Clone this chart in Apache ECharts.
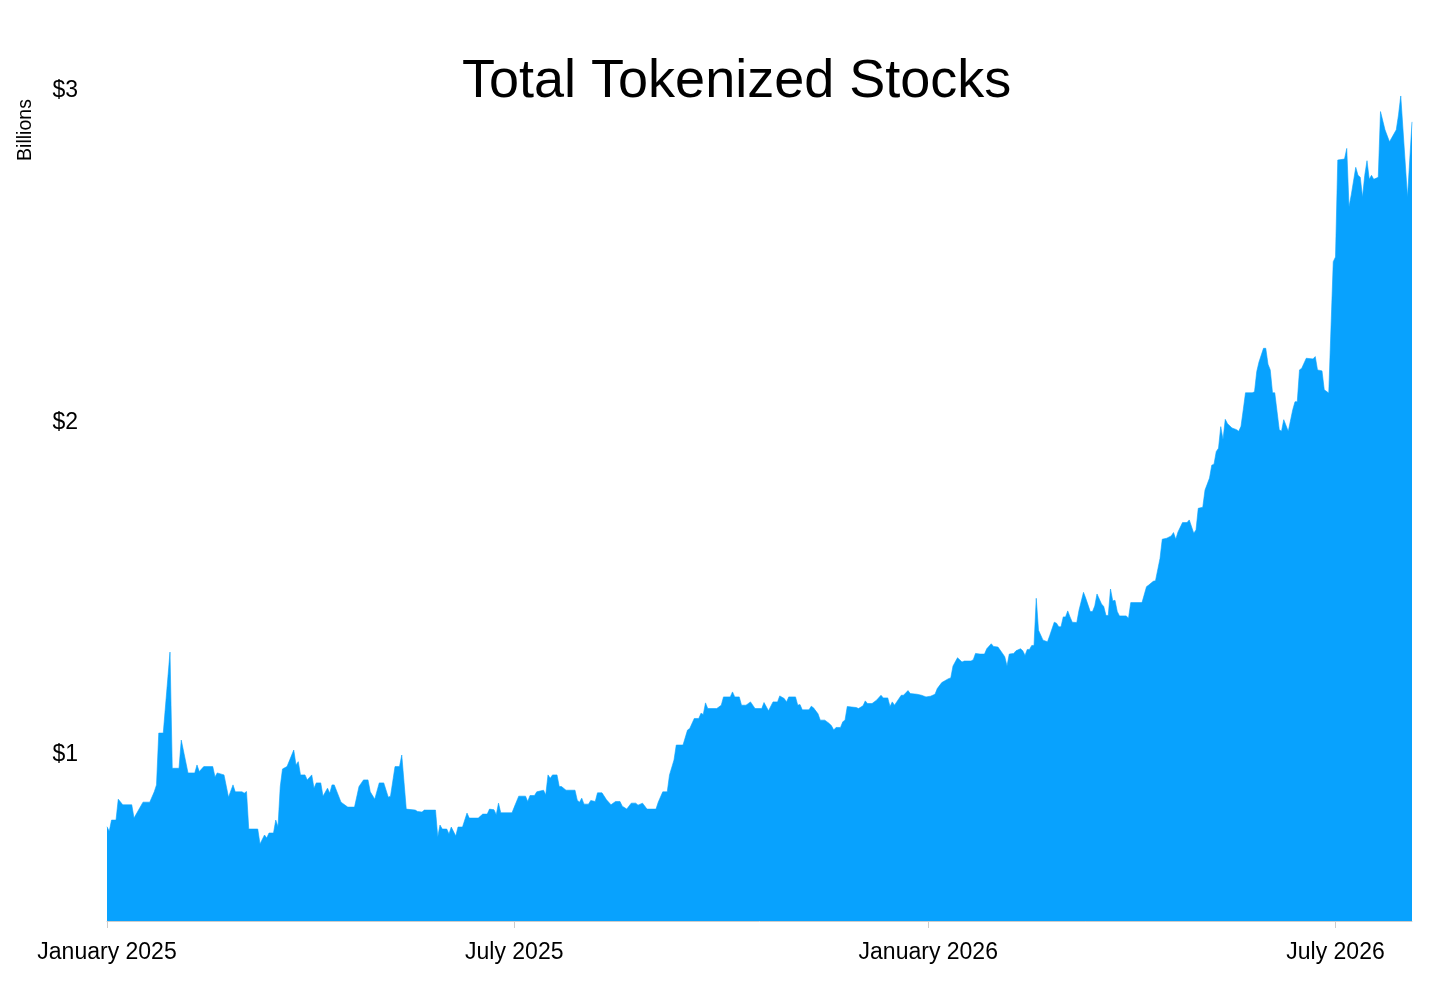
<!DOCTYPE html>
<html style="height: 100%">
<head>
    <meta charset="utf-8">
</head>
<body style="height: 100%; margin: 0; background: #fff">
<div id="container" style="height: 100%"></div>
<script type="text/javascript" src="https://cdn.jsdelivr.net/npm/echarts@6/dist/echarts.min.js"></script>
<script type="text/javascript">
    // daily snapshots (billions of USD)
    var dates = [
        '2025-01-01','2025-01-02','2025-01-03','2025-01-05','2025-01-06','2025-01-08','2025-01-12','2025-01-13','2025-01-17','2025-01-20','2025-01-22','2025-01-23','2025-01-24','2025-01-26','2025-01-29','2025-01-30',
        '2025-02-02','2025-02-03','2025-02-06','2025-02-09','2025-02-10','2025-02-11','2025-02-13','2025-02-17','2025-02-18','2025-02-19','2025-02-22','2025-02-24','2025-02-26','2025-02-27',
        '2025-03-02','2025-03-03','2025-03-04','2025-03-05','2025-03-09','2025-03-10','2025-03-12','2025-03-13','2025-03-14','2025-03-16','2025-03-17','2025-03-18','2025-03-19','2025-03-20','2025-03-22','2025-03-25','2025-03-26','2025-03-27','2025-03-28','2025-03-30','2025-03-31',
        '2025-04-02','2025-04-03','2025-04-04','2025-04-06','2025-04-07','2025-04-09','2025-04-10','2025-04-11','2025-04-12','2025-04-15','2025-04-18','2025-04-21','2025-04-23','2025-04-25','2025-04-27','2025-04-28','2025-04-30',
        '2025-05-02','2025-05-04','2025-05-06','2025-05-07','2025-05-09','2025-05-11','2025-05-12','2025-05-14','2025-05-18','2025-05-19','2025-05-21','2025-05-22','2025-05-27','2025-05-28','2025-05-29','2025-05-30',
        '2025-06-01','2025-06-02','2025-06-03','2025-06-05','2025-06-06','2025-06-08','2025-06-10','2025-06-11','2025-06-15','2025-06-17','2025-06-19','2025-06-20','2025-06-22','2025-06-23','2025-06-24','2025-06-25','2025-06-30',
        '2025-07-01','2025-07-03','2025-07-06','2025-07-07','2025-07-08','2025-07-10','2025-07-11','2025-07-14','2025-07-15','2025-07-16','2025-07-17','2025-07-18','2025-07-20','2025-07-21','2025-07-22','2025-07-24','2025-07-28','2025-07-29','2025-07-30','2025-07-31',
        '2025-08-01','2025-08-03','2025-08-04','2025-08-06','2025-08-07','2025-08-09','2025-08-11','2025-08-13','2025-08-15','2025-08-17','2025-08-18','2025-08-20','2025-08-22','2025-08-24','2025-08-25','2025-08-27','2025-08-29',
        '2025-09-02','2025-09-03','2025-09-05','2025-09-07','2025-09-08','2025-09-10','2025-09-11','2025-09-14','2025-09-16','2025-09-17','2025-09-19','2025-09-21','2025-09-22','2025-09-23','2025-09-24','2025-09-25','2025-09-29',
        '2025-10-01','2025-10-02','2025-10-05','2025-10-06','2025-10-07','2025-10-09','2025-10-10','2025-10-12','2025-10-14','2025-10-15','2025-10-16','2025-10-19','2025-10-20','2025-10-22','2025-10-24','2025-10-26','2025-10-27','2025-10-29','2025-10-30','2025-10-31',
        '2025-11-03','2025-11-04','2025-11-05','2025-11-06','2025-11-09','2025-11-10','2025-11-11','2025-11-13','2025-11-14','2025-11-16','2025-11-18','2025-11-19','2025-11-20','2025-11-21','2025-11-23','2025-11-24','2025-11-25','2025-11-26','2025-11-30',
        '2025-12-01','2025-12-03','2025-12-04','2025-12-05','2025-12-07','2025-12-09','2025-12-11','2025-12-12','2025-12-14','2025-12-15','2025-12-16','2025-12-17','2025-12-20','2025-12-21','2025-12-23','2025-12-24','2025-12-27','2025-12-29','2025-12-31',
        '2026-01-02','2026-01-04','2026-01-05','2026-01-07','2026-01-10','2026-01-11','2026-01-12','2026-01-14','2026-01-16','2026-01-17','2026-01-20','2026-01-21','2026-01-22','2026-01-24','2026-01-26','2026-01-27','2026-01-29','2026-01-30',
        '2026-02-01','2026-02-03','2026-02-04','2026-02-05','2026-02-06','2026-02-08','2026-02-09','2026-02-11','2026-02-12','2026-02-13','2026-02-14','2026-02-15','2026-02-16','2026-02-17','2026-02-18','2026-02-19','2026-02-21','2026-02-23','2026-02-24','2026-02-26','2026-02-27','2026-02-28',
        '2026-03-01','2026-03-02','2026-03-03','2026-03-04','2026-03-05','2026-03-06','2026-03-08','2026-03-09','2026-03-11','2026-03-12','2026-03-14','2026-03-15','2026-03-16','2026-03-17','2026-03-19','2026-03-20','2026-03-21','2026-03-22','2026-03-23','2026-03-24','2026-03-25','2026-03-26','2026-03-27','2026-03-30','2026-03-31',
        '2026-04-01','2026-04-06','2026-04-08','2026-04-09','2026-04-11','2026-04-12','2026-04-14','2026-04-15','2026-04-17','2026-04-19','2026-04-20','2026-04-21','2026-04-22','2026-04-24','2026-04-26','2026-04-27','2026-04-29','2026-04-30',
        '2026-05-01','2026-05-03','2026-05-04','2026-05-06','2026-05-07','2026-05-08','2026-05-09','2026-05-10','2026-05-11','2026-05-12','2026-05-13','2026-05-14','2026-05-16','2026-05-18','2026-05-19','2026-05-20','2026-05-21','2026-05-22','2026-05-25','2026-05-26','2026-05-27','2026-05-28','2026-05-30','2026-05-31',
        '2026-06-01','2026-06-02','2026-06-03','2026-06-04','2026-06-06','2026-06-07','2026-06-08','2026-06-10','2026-06-12','2026-06-13','2026-06-14','2026-06-15','2026-06-16','2026-06-18','2026-06-21','2026-06-22','2026-06-23','2026-06-25','2026-06-26','2026-06-28','2026-06-30',
        '2026-07-01','2026-07-02','2026-07-05','2026-07-06','2026-07-07','2026-07-08','2026-07-10','2026-07-11','2026-07-12','2026-07-13','2026-07-14','2026-07-15','2026-07-16','2026-07-17','2026-07-18','2026-07-20','2026-07-21','2026-07-23','2026-07-25','2026-07-28','2026-07-29','2026-07-30',
        '2026-08-02','2026-08-04'
    ];
    var values = [
        0.784,0.77,0.804,0.804,0.867,0.85,0.85,0.81,0.858,0.858,0.889,0.91,1.066,1.066,1.31,0.96,
        0.96,1.045,0.946,0.946,0.97,0.95,0.965,0.965,0.934,0.946,0.94,0.873,0.91,0.889,
        0.889,0.885,0.89,0.777,0.777,0.732,0.759,0.75,0.765,0.765,0.804,0.784,0.905,0.958,0.965,1.015,0.97,0.98,0.94,0.94,0.925,
        0.94,0.9,0.916,0.916,0.876,0.9,0.885,0.91,0.91,0.858,0.843,0.843,0.905,0.925,0.925,0.889,0.867,
        0.916,0.916,0.873,0.876,0.965,0.965,1.0,0.837,0.834,0.83,0.828,0.834,0.834,0.753,0.789,0.777,
        0.777,0.762,0.783,0.756,0.783,0.783,0.825,0.81,0.81,0.822,0.822,0.837,0.835,0.82,0.855,0.826,0.826,
        0.843,0.876,0.876,0.86,0.878,0.878,0.889,0.894,0.88,0.94,0.93,0.94,0.94,0.905,0.905,0.894,0.894,0.864,0.858,0.87,
        0.852,0.852,0.863,0.86,0.886,0.886,0.865,0.85,0.86,0.86,0.846,0.837,0.855,0.855,0.849,0.855,0.837,
        0.837,0.858,0.889,0.889,0.94,0.985,1.03,1.03,1.075,1.08,1.11,1.11,1.126,1.122,1.157,1.14,1.14,
        1.15,1.175,1.175,1.19,1.175,1.175,1.15,1.15,1.16,1.15,1.14,1.14,1.158,1.133,1.16,1.16,1.178,1.17,1.16,1.175,
        1.175,1.15,1.152,1.136,1.136,1.147,1.142,1.124,1.105,1.105,1.095,1.088,1.075,1.083,1.083,1.1,1.105,1.146,1.143,
        1.14,1.148,1.163,1.155,1.155,1.165,1.18,1.172,1.172,1.146,1.16,1.15,1.18,1.18,1.194,1.185,1.183,1.18,1.175,
        1.177,1.183,1.2,1.218,1.23,1.232,1.268,1.293,1.28,1.283,1.283,1.287,1.306,1.304,1.304,1.32,1.335,1.327,
        1.325,1.306,1.296,1.268,1.304,1.306,1.314,1.32,1.314,1.3,1.318,1.318,1.33,1.33,1.472,1.376,1.346,1.341,1.36,1.4,1.397,1.386,
        1.386,1.416,1.416,1.434,1.416,1.4,1.399,1.436,1.49,1.472,1.432,1.432,1.449,1.485,1.455,1.447,1.42,1.42,1.5,1.464,1.466,1.432,1.419,1.419,1.412,
        1.459,1.459,1.507,1.512,1.523,1.525,1.592,1.65,1.653,1.66,1.67,1.65,1.672,1.7,1.7,1.708,1.668,1.678,
        1.743,1.746,1.798,1.834,1.873,1.876,1.914,1.924,1.989,1.95,2.011,1.998,1.985,1.98,1.975,1.99,2.04,2.091,2.091,2.094,2.155,2.184,2.225,2.225,
        2.177,2.16,2.091,2.091,1.98,1.975,2.01,1.975,2.04,2.064,2.064,2.16,2.165,2.195,2.193,2.2,2.16,2.157,2.1,2.09,2.486,
        2.5,2.792,2.795,2.827,2.651,2.687,2.77,2.746,2.74,2.68,2.746,2.79,2.734,2.746,2.734,2.74,2.938,2.883,2.847,2.883,2.928,2.985,
        2.68,2.907
    ];

    var xTickDates = ['2025-01-01', '2025-07-01', '2026-01-01', '2026-07-01'];
    var xTickLabels = ['January 2025', 'July 2025', 'January 2026', 'July 2026'];
    var yTickValues = [1, 2, 3];
    var yTickLabels = ['$1', '$2', '$3'];

    var FONT = '"Liberation Sans", Arial, sans-serif';
    var AREA_COLOR = '#08a2fe';

    // dates -> UTC ms, x axis is a plain value axis over time
    function toTime(s) {
        var p = s.split('-');
        return Date.UTC(+p[0], +p[1] - 1, +p[2]);
    }

    var seriesData = dates.map(function (d, i) {
        return [toTime(d), values[i]];
    });
    var xTickTimes = xTickDates.map(toTime);

    var dom = document.getElementById("container");
    var myChart = echarts.init(dom);

    var option = {
        animation: false,
        backgroundColor: '#fff',
        title: {
            text: 'Total Tokenized Stocks',
            left: 457,
            top: 50,
            textStyle: {
                fontFamily: FONT,
                fontSize: 54,
                fontWeight: 'normal',
                color: '#000'
            }
        },
        graphic: [{
            type: 'text',
            x: 26,
            y: 130,
            rotation: Math.PI / 2,
            style: {
                text: 'Billions',
                font: '19.5px ' + FONT,
                fill: '#000',
                align: 'center',
                verticalAlign: 'middle'
            }
        }],
        grid: {
            left: 107,
            right: 44,
            top: 91,
            bottom: 77
        },
        xAxis: {
            type: 'value',
            min: toTime('2025-01-01'),
            max: toTime(dates[dates.length - 1]),
            axisLine: {
                show: true,
                lineStyle: {color: '#cccccc', width: 1}
            },
            axisTick: {
                show: true,
                length: 7,
                customValues: xTickTimes,
                lineStyle: {color: '#cccccc', width: 1}
            },
            axisLabel: {
                customValues: xTickTimes,
                margin: 20,
                color: '#000',
                fontSize: 23,
                fontFamily: FONT,
                formatter: function (value) {
                    var i = xTickTimes.indexOf(value);
                    return i >= 0 ? xTickLabels[i] : '';
                }
            },
            splitLine: {show: false}
        },
        yAxis: {
            type: 'value',
            min: 0.5,
            max: 3,
            axisLine: {show: false},
            axisTick: {show: false},
            splitLine: {show: false},
            axisLabel: {
                customValues: yTickValues,
                margin: 29,
                color: '#000',
                fontSize: 23,
                fontFamily: FONT,
                formatter: function (value) {
                    var i = yTickValues.indexOf(value);
                    return i >= 0 ? yTickLabels[i] : '';
                }
            }
        },
        series: [{
            name: 'Total Tokenized Stocks',
            type: 'line',
            data: seriesData,
            showSymbol: false,
            symbol: 'none',
            lineStyle: {width: 0.6, color: AREA_COLOR},
            areaStyle: {color: AREA_COLOR, opacity: 1, origin: 'start'}
        }]
    };

    myChart.setOption(option);
</script>
</body>
</html>
